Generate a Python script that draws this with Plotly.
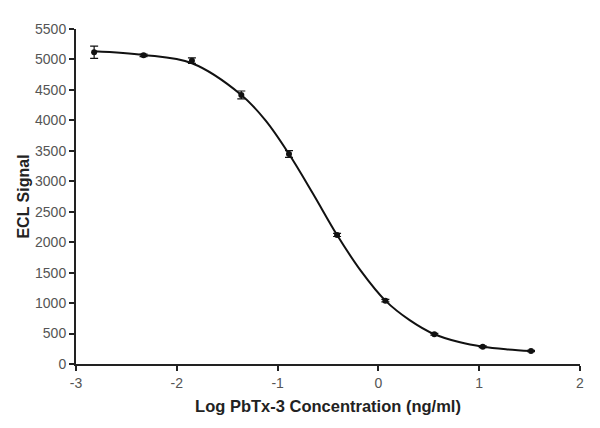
import plotly.graph_objects as go

log_conc = [-2.82, -2.33, -1.85, -1.36, -0.887, -0.41, 0.069, 0.555, 1.035, 1.514]
signal = [5118, 5068, 4980, 4417, 3448, 2118, 1040, 488, 284, 213]
signal_err = [100, 20, 45, 65, 55, 25, 20, 15, 15, 10]

# Fitted curve
curve_x = [-2.82, -2.33, -1.85, -1.36, -1.12, -0.887, -0.65, -0.41, -0.17, 0.069, 0.31, 0.555, 0.80, 1.035, 1.28, 1.514]
curve_y = [5135, 5075, 4937, 4417, 4000, 3448, 2800, 2118, 1520, 1040, 720, 488, 360, 284, 240, 213]

x_ticks = [-3, -2, -1, 0, 1, 2]
y_ticks = list(range(0, 5501, 500))

fig = go.Figure()
fig.add_trace(go.Scatter(x=curve_x, y=curve_y, mode="lines", line=dict(color="#111", width=2, shape="spline", smoothing=1.0),
                         hoverinfo="skip", showlegend=False))
fig.add_trace(go.Scatter(x=log_conc, y=signal, mode="markers",
                         marker=dict(color="#111", size=6),
                         error_y=dict(type="data", array=signal_err, visible=True, color="#111", thickness=1.2, width=4),
                         showlegend=False))

font = "Liberation Sans, Arial, sans-serif"
fig.update_layout(
    width=600, height=428,
    margin=dict(l=76, r=20, t=29, b=64),
    paper_bgcolor="white", plot_bgcolor="white",
    font=dict(family=font, color="#333", size=13),
)
fig.update_xaxes(range=[-3, 2], tickvals=x_ticks, ticktext=[str(v) for v in x_ticks],
                 showgrid=False, zeroline=False, showline=True, linecolor="#222", linewidth=2,
                 ticks="outside", ticklen=5, tickwidth=2, tickcolor="#222",
                 tickfont=dict(size=14, color="#555"),
                 title=dict(text="<b>Log PbTx-3 Concentration (ng/ml)</b>", font=dict(size=16.5, color="#222"), standoff=11))
fig.update_yaxes(range=[0, 5500], tickvals=y_ticks, ticktext=[str(v) for v in y_ticks],
                 showgrid=False, zeroline=False, showline=True, linecolor="#222", linewidth=2,
                 ticks="outside", ticklen=5, tickwidth=2, tickcolor="#222",
                 tickfont=dict(size=14, color="#555"),
                 title=dict(text="<b>ECL Signal</b>", font=dict(size=16, color="#222"), standoff=1))

fig.write_html("out.html", config={"displayModeBar": False},
               post_script="document.body.style.margin='0';")
